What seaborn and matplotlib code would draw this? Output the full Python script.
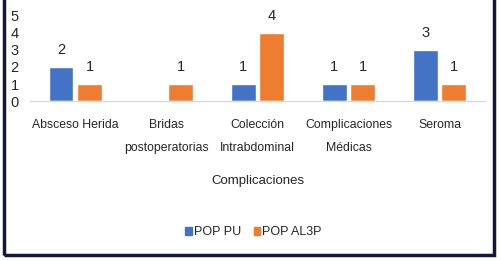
import matplotlib
matplotlib.use("Agg")
import matplotlib.pyplot as plt
from matplotlib import font_manager
from matplotlib.patches import Rectangle
import pandas as pd
import seaborn as sns

categories = ["Absceso Herida", "Bridas\npostoperatorias", "Colección\nIntrabdominal",
              "Complicaciones\nMédicas", "Seroma"]
pop_pu = [2, 0, 1, 1, 3]
pop_al3p = [1, 1, 4, 1, 1]
series_names = ["POP PU", "POP AL3P"]
colors = ["#4472c4", "#ed7d31"]

df = pd.DataFrame({
    "Complicaciones": categories * 2,
    "valor": pop_pu + pop_al3p,
    "serie": [series_names[0]] * len(categories) + [series_names[1]] * len(categories),
})

sns.set_style("white")
names = {f.name for f in font_manager.fontManager.ttflist}
narrow = "Liberation Sans Narrow" if "Liberation Sans Narrow" in names else "Liberation Sans"
plt.rcParams["font.family"] = [narrow, "DejaVu Sans"]

fig = plt.figure(figsize=(4.99, 2.61), dpi=100)
ax = fig.add_axes([0.06, 0.613, 0.912, 0.387])

sns.barplot(data=df, x="Complicaciones", y="valor", hue="serie", palette=colors,
            saturation=1, width=0.62, gap=0.14, ax=ax, legend=False)

# etiquetas de datos (sin el cero)
for cont in ax.containers:
    labels = [f"{int(v)}" if v > 0 else "" for v in cont.datavalues]
    ax.bar_label(cont, labels=labels, padding=7, fontsize=10.5, color="#262626")

ax.set_ylim(0, 5.94)
ax.set_yticks(range(6))
ax.tick_params(axis="y", length=0, pad=8, labelsize=10.5, labelcolor="#262626")
ax.tick_params(axis="x", length=0, pad=13, labelsize=8.8, labelcolor="#262626")
for lab in ax.get_xticklabels():
    lab.set_linespacing(2.2)
ax.set_xlabel("Complicaciones", fontsize=9.5, color="#262626", labelpad=15)
ax.set_ylabel("")
for s in ["top", "right", "left"]:
    ax.spines[s].set_visible(False)
ax.spines["bottom"].set_color("#d9d9d9")
ax.spines["bottom"].set_linewidth(1.0)

handles = [plt.Rectangle((0, 0), 1, 1, color=c) for c in colors]
fig.legend(handles, series_names, loc="center", bbox_to_anchor=(0.508, 0.11), ncol=2,
           frameon=False, fontsize=9, handlelength=0.55, handleheight=0.55,
           handletextpad=0.15, columnspacing=1.0, labelcolor="#262626")

# marco oscuro
fig.patches.append(Rectangle((0.008, 0.024), 0.982, 1.2, transform=fig.transFigure,
                             fill=False, edgecolor="#15163d", linewidth=2.5))

fig.savefig("out.png", dpi=100)
